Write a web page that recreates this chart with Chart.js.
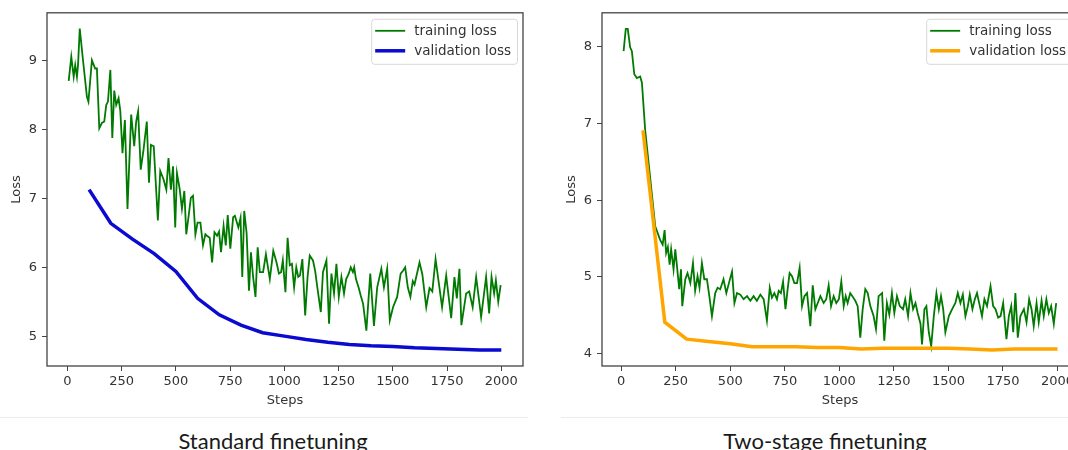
<!DOCTYPE html>
<html>
<head>
<meta charset="utf-8">
<script src="https://cdn.jsdelivr.net/npm/chart.js@4.4.1/dist/chart.umd.min.js"></script>
<style>
  html, body { margin: 0; padding: 0; background: #fff; }
  body { width: 1068px; height: 450px; overflow: hidden; position: relative; font-family: Lato, sans-serif; }
  canvas { position: absolute; top: 0; }
  #stdChart { left: 0; }
  #twoChart { left: 555px; }
  .sep { position: absolute; top: 417px; height: 1px; background: #ececec; }
  .caption { position: absolute; top: 430px; font-size: 22px; line-height: 22px; color: #1a1a1a; white-space: nowrap; transform: translateX(-50%); }
</style>
</head>
<body>
<canvas id="stdChart" width="545" height="410"></canvas>
<canvas id="twoChart" width="545" height="410"></canvas>
<div class="sep" style="left:0;width:528px"></div>
<div class="sep" style="left:561px;width:507px"></div>
<div class="caption" style="left:273px">Standard finetuning</div>
<div class="caption" style="left:825px">Two-stage finetuning</div>
<script>
/* global Chart */

// [step, loss]
const stdTrain = [
  [6, 8.71], [18, 9.06], [29, 8.77], [36, 8.94], [44, 8.77], [49, 8.94], [57, 9.47], [72, 9.01], [90, 8.48], [97, 8.41],
  [113, 9.01], [128, 8.89], [136, 8.89], [147, 8.02], [159, 8.10], [170, 8.12], [179, 8.36], [187, 8.41], [198, 8.87], [207, 7.88],
  [216, 8.57], [225, 8.36], [236, 8.46], [244, 8.27], [254, 7.66], [265, 8.14], [277, 6.85], [294, 8.22], [308, 7.76], [317, 8.12],
  [326, 8.27], [338, 7.42], [351, 7.71], [366, 8.12], [376, 7.23], [385, 7.78], [398, 7.76], [417, 6.68], [428, 7.40], [443, 7.28],
  [456, 7.13], [466, 7.59], [477, 7.13], [487, 7.47], [497, 6.58], [505, 7.37], [518, 7.13], [528, 6.85], [539, 7.11], [548, 6.48],
  [559, 6.75], [569, 7.01], [579, 7.04], [590, 6.48], [600, 6.65], [613, 6.65], [625, 6.32], [636, 6.48], [643, 6.46], [656, 6.43],
  [667, 6.07], [678, 6.51], [690, 6.46], [699, 6.52], [708, 6.22], [720, 6.60], [730, 6.32], [739, 6.76], [751, 6.27], [764, 6.73],
  [772, 6.75], [788, 6.58], [798, 6.72], [806, 5.86], [815, 6.82], [826, 6.50], [837, 5.66], [846, 6.22], [856, 5.86], [867, 5.57],
  [877, 6.29], [887, 5.93], [902, 5.93], [915, 6.19], [933, 5.83], [949, 6.24], [964, 6.07], [975, 5.91], [985, 5.93], [993, 6.10],
  [1005, 5.64], [1015, 6.43], [1025, 6.03], [1035, 6.05], [1045, 5.71], [1055, 6.00], [1064, 5.86], [1072, 5.88], [1083, 6.12], [1096, 5.30],
  [1107, 5.86], [1117, 6.17], [1132, 6.10], [1142, 5.95], [1152, 5.71], [1168, 5.35], [1178, 5.93], [1194, 6.10], [1206, 5.18], [1217, 5.91],
  [1229, 5.62], [1240, 6.05], [1251, 5.57], [1263, 5.86], [1275, 5.62], [1285, 5.83], [1296, 5.90], [1306, 6.00], [1316, 5.93], [1322, 6.00],
  [1330, 5.83], [1342, 5.71], [1352, 5.59], [1363, 5.47], [1378, 5.08], [1396, 5.91], [1413, 5.15], [1428, 5.71], [1447, 5.98], [1459, 5.71],
  [1474, 5.98], [1486, 5.23], [1501, 5.42], [1520, 5.57], [1536, 5.91], [1547, 5.95], [1557, 6.00], [1569, 5.71], [1581, 5.57], [1592, 5.80],
  [1600, 5.75], [1623, 6.07], [1636, 5.90], [1654, 5.42], [1669, 5.70], [1682, 5.65], [1697, 6.12], [1715, 5.70], [1727, 5.42], [1746, 5.88],
  [1769, 5.26], [1784, 5.86], [1795, 5.55], [1807, 5.98], [1816, 5.16], [1838, 5.62], [1852, 5.65], [1868, 5.42], [1884, 5.86], [1907, 5.28],
  [1930, 5.86], [1944, 5.33], [1955, 5.86], [1967, 5.62], [1975, 5.81], [1986, 5.50], [1997, 5.74]
]

const valSteps = [100, 200, 300, 400, 500, 600, 700, 800, 900, 1000, 1100, 1200, 1300, 1400, 1500, 1600, 1700, 1800, 1900, 2000]
const stdVal = [7.13, 6.64, 6.41, 6.20, 5.94, 5.55, 5.31, 5.16, 5.05, 5.00, 4.95, 4.91, 4.88, 4.86, 4.85, 4.83, 4.82, 4.81, 4.80, 4.80]

const twoTrain = [
  [11, 7.94], [21, 8.23], [30, 8.23], [41, 7.99], [49, 7.94], [60, 7.64], [72, 7.59], [87, 7.61], [95, 7.53], [110, 6.91],
  [156, 5.66], [179, 5.48], [190, 5.42], [199, 5.61], [206, 5.31], [214, 5.39], [222, 5.16], [229, 5.36], [240, 5.10], [248, 5.36],
  [255, 5.16], [266, 4.84], [274, 5.10], [280, 4.62], [294, 4.97], [304, 5.05], [317, 4.92], [329, 5.18], [339, 4.82], [350, 5.01],
  [359, 4.86], [370, 5.18], [381, 4.97], [393, 4.97], [404, 4.75], [416, 4.49], [431, 4.79], [442, 4.86], [454, 4.84], [469, 4.97],
  [482, 4.79], [492, 4.90], [508, 5.07], [519, 4.66], [531, 4.79], [546, 4.77], [561, 4.71], [577, 4.75], [592, 4.69], [607, 4.75],
  [622, 4.69], [638, 4.77], [653, 4.71], [668, 4.43], [681, 4.86], [691, 4.73], [702, 4.79], [714, 4.71], [722, 4.82], [732, 4.79],
  [742, 4.94], [753, 4.58], [763, 4.84], [772, 5.05], [783, 5.01], [794, 4.92], [806, 4.92], [818, 5.12], [829, 4.62], [840, 4.75],
  [852, 4.79], [867, 4.36], [878, 4.89], [890, 4.58], [901, 4.66], [913, 4.75], [928, 4.66], [940, 4.71], [951, 4.89], [962, 4.62],
  [974, 4.75], [986, 4.66], [998, 4.71], [1009, 4.94], [1020, 4.62], [1029, 4.75], [1038, 4.66], [1050, 4.79], [1062, 4.74], [1073, 4.69],
  [1084, 4.62], [1096, 4.21], [1107, 4.58], [1119, 4.84], [1130, 4.79], [1142, 4.62], [1157, 4.49], [1168, 4.32], [1180, 4.75], [1196, 4.79],
  [1206, 4.17], [1218, 4.66], [1229, 4.51], [1241, 4.79], [1252, 4.53], [1264, 4.75], [1277, 4.62], [1292, 4.58], [1302, 4.71], [1315, 4.49],
  [1326, 4.79], [1338, 4.58], [1349, 4.66], [1359, 4.53], [1372, 4.39], [1379, 4.12], [1390, 4.58], [1399, 4.62], [1410, 4.28], [1421, 4.10],
  [1433, 4.49], [1445, 4.79], [1456, 4.58], [1466, 4.75], [1476, 4.58], [1486, 4.28], [1502, 4.49], [1517, 4.58], [1532, 4.66], [1543, 4.79],
  [1555, 4.66], [1566, 4.77], [1578, 4.49], [1589, 4.62], [1598, 4.77], [1610, 4.58], [1621, 4.71], [1631, 4.79], [1644, 4.62], [1654, 4.49],
  [1665, 4.71], [1677, 4.62], [1693, 4.88], [1705, 4.62], [1716, 4.58], [1728, 4.47], [1739, 4.49], [1751, 4.66], [1766, 4.19], [1777, 4.49],
  [1788, 4.62], [1797, 4.28], [1807, 4.79], [1818, 4.21], [1830, 4.49], [1846, 4.58], [1858, 4.41], [1870, 4.71], [1881, 4.58], [1891, 4.36],
  [1904, 4.66], [1914, 4.41], [1927, 4.69], [1937, 4.49], [1949, 4.71], [1960, 4.53], [1971, 4.62], [1983, 4.39], [1994, 4.66]
]

const twoVal = [6.91, 4.41, 4.19, 4.16, 4.13, 4.09, 4.09, 4.09, 4.08, 4.08, 4.06, 4.07, 4.07, 4.07, 4.07, 4.06, 4.05, 4.06, 4.06, 4.06]

const xTicks = [0, 250, 500, 750, 1000, 1250, 1500, 1750, 2000]
const stdYTicks = [5, 6, 7, 8, 9]
const twoYTicks = [4, 5, 6, 7, 8]

const TICK_FONT = { family: 'DejaVu Sans', size: 13 }
const AXIS_COLOR = '#444'
const TEXT_COLOR = '#333'

// matplotlib style box round the plot area
const frame = {
  id: 'frame',
  afterDatasetsDraw(chart) {
    const { ctx, chartArea: a } = chart
    ctx.save()
    ctx.strokeStyle = AXIS_COLOR
    ctx.lineWidth = 1.3
    ctx.strokeRect(a.left, a.top, a.right - a.left, a.bottom - a.top)
    ctx.restore()
  }
}

// legend box in the upper right of the plot area
const innerLegend = {
  id: 'innerLegend',
  afterDraw(chart) {
    const { ctx, chartArea: a } = chart
    const sets = chart.data.datasets
    ctx.save()
    ctx.font = '13.5px "DejaVu Sans"'
    const textW = Math.max(...sets.map(d => ctx.measureText(d.label).width))
    const w = 4 + 30 + 9 + textW + 6
    const h = 45
    const x = a.right - 6 - w
    const y = a.top + 6
    ctx.beginPath()
    if (ctx.roundRect) ctx.roundRect(x + 0.5, y + 0.5, w, h, 3)
    else ctx.rect(x + 0.5, y + 0.5, w, h)
    ctx.fillStyle = 'rgba(255,255,255,0.85)'
    ctx.fill()
    ctx.strokeStyle = '#d8d8d8'
    ctx.lineWidth = 1
    ctx.stroke()
    sets.forEach((d, i) => {
      const cy = y + 12 + i * 20
      ctx.beginPath()
      ctx.moveTo(x + 4, cy)
      ctx.lineTo(x + 34, cy)
      ctx.strokeStyle = d.borderColor
      ctx.lineWidth = d.borderWidth
      ctx.stroke()
      ctx.fillStyle = TEXT_COLOR
      ctx.textBaseline = 'middle'
      ctx.fillText(d.label, x + 43, cy + 1)
    })
    ctx.restore()
  }
}

function toPoints(pairs) {
  return pairs.map(p => ({ x: p[0], y: p[1] }))
}

function zipPoints(steps, values) {
  return steps.map((s, i) => ({ x: s, y: values[i] }))
}

function axis(ticks, extra) {
  return Object.assign({
    type: 'linear',
    bounds: 'data',
    afterBuildTicks: s => { s.ticks = ticks.map(v => ({ value: v })) },
    border: { display: false },
    grid: { drawOnChartArea: false, drawTicks: true, tickLength: 5, color: AXIS_COLOR, lineWidth: 1 },
    ticks: { color: TEXT_COLOR, font: TICK_FONT, autoSkip: false, maxRotation: 0, callback: v => String(v) }
  }, extra)
}

function makeChart(id, train, valPoints, valColor, xRange, yRange, yTicks) {
  const x = axis(xTicks, {
    min: xRange[0],
    max: xRange[1],
    afterFit: s => { s.height = 44 },
    title: { display: true, text: 'Steps', color: TEXT_COLOR, font: TICK_FONT, padding: { top: 0, bottom: 2 } }
  })
  x.ticks.padding = 3
  const y = axis(yTicks, {
    min: yRange[0],
    max: yRange[1],
    afterFit: s => { s.width = 47 },
    title: { display: true, text: 'Loss', color: TEXT_COLOR, font: TICK_FONT, padding: { top: 9, bottom: 0 } }
  })
  y.ticks.padding = 5

  return new Chart(document.getElementById(id), {
    type: 'line',
    data: {
      datasets: [
        { label: 'training loss', data: train, borderColor: '#007a00', borderWidth: 1.8, pointRadius: 0, tension: 0, order: 1 },
        { label: 'validation loss', data: valPoints, borderColor: valColor, borderWidth: 3.5, pointRadius: 0, tension: 0, order: 0 }
      ]
    },
    options: {
      responsive: false,
      animation: false,
      devicePixelRatio: 1,
      layout: { padding: { top: 11, right: 22, left: 0, bottom: 0 } },
      scales: { x, y },
      plugins: { legend: { display: false }, tooltip: { enabled: false } }
    },
    plugins: [frame, innerLegend]
  })
}

makeChart('stdChart', toPoints(stdTrain), zipPoints(valSteps, stdVal), '#0a0ad0', [-94, 2100], [4.566, 9.70], stdYTicks)
makeChart('twoChart', toPoints(twoTrain), zipPoints(valSteps, twoVal), '#ffa500', [-88, 2094], [3.84, 8.44], twoYTicks)
</script>
</body>
</html>
